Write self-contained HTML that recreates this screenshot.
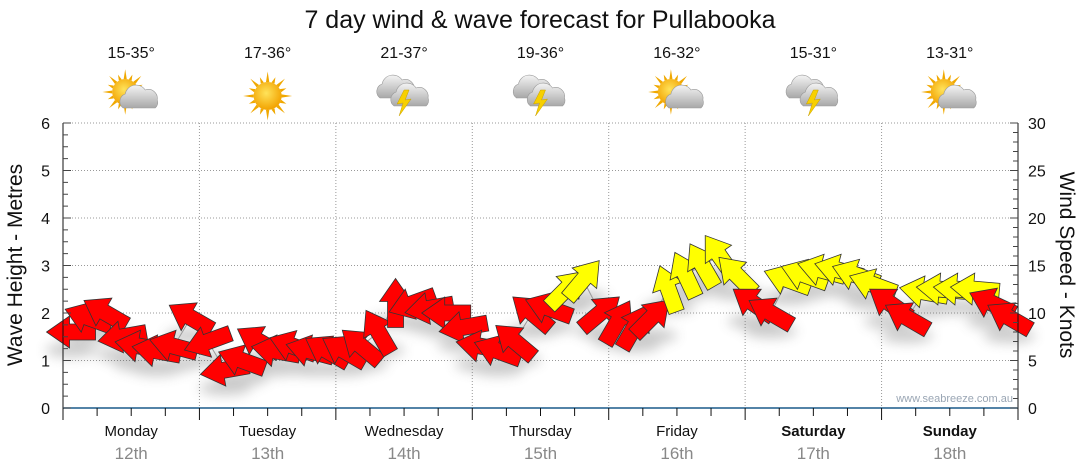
<!DOCTYPE html>
<html><head><meta charset="utf-8">
<style>
body{margin:0;background:#fff;}
svg{display:block;font-family:"Liberation Sans","DejaVu Sans",sans-serif;}
</style></head>
<body>
<svg id="chart" width="1080" height="475" viewBox="0 0 1080 475">
<defs>
<filter id="sh" x="-50%" y="-50%" width="200%" height="200%"><feGaussianBlur stdDeviation="6"/></filter>
<radialGradient id="sun" cx="0.45" cy="0.4" r="0.6"><stop offset="0" stop-color="#ffe35a"/><stop offset="1" stop-color="#f2a200"/></radialGradient>
<linearGradient id="cloud" x1="0" y1="0" x2="0" y2="1"><stop offset="0" stop-color="#f4f4f4"/><stop offset="1" stop-color="#a8a8a8"/></linearGradient>
</defs>
<text x="540" y="28" text-anchor="middle" font-size="25" fill="#111">7 day wind &amp; wave forecast for Pullabooka</text>
<g id="grid"></g>
<g id="header"></g>
<g id="shadows" filter="url(#sh)" opacity="0.3"></g>
<path id="waveline" fill="none" stroke="#999" stroke-width="1"/>
<g id="arrows"></g>
<g id="axes"></g>
<text x="1013" y="402" text-anchor="end" font-size="11" fill="#9aa6b4">www.seabreeze.com.au</text>
<text transform="translate(22,265) rotate(-90)" text-anchor="middle" font-size="21" fill="#111">Wave Height - Metres</text>
<text transform="translate(1060,265) rotate(90)" text-anchor="middle" font-size="21" fill="#111">Wind Speed - Knots</text>
</svg>
<script>
const days=["Monday","Tuesday","Wednesday","Thursday","Friday","Saturday","Sunday"];
const dates=["12th","13th","14th","15th","16th","17th","18th"];
const temps=["15-35°","17-36°","21-37°","19-36°","16-32°","15-31°","13-31°"];
const icons=["partly","sunny","storm","storm","partly","storm","partly"];
const leftTicks=[0,1,2,3,4,5,6];
const rightTicks=[0,5,10,15,20,25,30];
// wind speed (knots), 3-hourly
const windSpeed=[8,9.5,10,7.5,6.5,6,6.5,9.5,
 7,4,5,7,6,6.5,6,6,
 6,6.5,8,11,11,10.5,10,8.5,
 6.5,6,7,10,10.5,12.5,13.5,10,
 9,8.5,9.5,12.5,14,15,16,14,
 11,10,13.5,14,14.5,14.5,14,13,
 11,9.5,12.2,12.5,12.5,12.5,11,9.5];
// arrow heading (screen degrees, 0=right, 90=up)
const windDir=[180,160,150,190,170,170,165,150,
 200,190,160,150,170,160,165,150,
 150,140,120,90,200,190,180,190,
 170,160,140,140,160,45,50,40,
 60,60,45,110,115,120,125,135,
 145,150,160,160,165,165,160,160,
 145,150,170,175,175,175,155,150];
const thresh=12;
const X0=63,X1=1018,Y0=408,Y1=123;
const dayW=(X1-X0)/7;
const xh=h=>X0+h/168*(X1-X0);
const yk=k=>Y0-k/30*(Y0-Y1);
const ym=m=>Y0-m/6*(Y0-Y1);
const NS="http://www.w3.org/2000/svg";
function mk(tag,attrs,parent,txt){const e=document.createElementNS(NS,tag);for(const k in attrs)e.setAttribute(k,attrs[k]);if(txt!==undefined)e.textContent=txt;parent.appendChild(e);return e;}
const grid=document.getElementById('grid'),axes=document.getElementById('axes'),hdr=document.getElementById('header');
leftTicks.forEach(t=>{if(t>0){const l=mk('line',{x1:X0,x2:X1,y1:ym(t),y2:ym(t),stroke:'#999','stroke-dasharray':'1,2'},grid);

}
const tx=mk('text',{x:50,y:ym(t)+6,'text-anchor':'end','font-size':16,fill:'#111'},axes,t);

});
rightTicks.forEach(t=>{const tx=mk('text',{x:1028,y:yk(t)+6,'font-size':16,fill:'#111'},axes,t);

});
for(let i=1;i<7;i++){const l=mk('line',{x1:X0+i*dayW,x2:X0+i*dayW,y1:Y1,y2:Y0,stroke:'#999','stroke-dasharray':'1,2'},grid);

}
mk('line',{x1:X0,x2:X0,y1:Y1,y2:Y0,stroke:'#111'},axes);
mk('line',{x1:X1,x2:X1,y1:Y1,y2:Y0,stroke:'#111'},axes);
mk('line',{x1:X0,x2:X1,y1:Y0,y2:Y0,stroke:'#1a5a8a','stroke-width':1.5},axes);
for(let m=0;m<=24;m++){mk('line',{x1:X0,x2:X0+(m%4?5:8),y1:ym(m/4),y2:ym(m/4),stroke:'#444'},axes);}
for(let k=0;k<=30;k++){mk('line',{x1:X1,x2:X1-(k%5?5:8),y1:yk(k),y2:yk(k),stroke:'#444'},axes);}
for(let h=0;h<=168;h+=6){mk('line',{x1:xh(h),x2:xh(h),y1:Y0,y2:Y0+(h%24?8:12),stroke:'#111'},axes);}
function sun(g,cx,cy,r){for(let i=0;i<16;i++){const a=i*Math.PI/8,L=i%2?r*1.45:r*1.75;
mk('polygon',{points:`${cx+Math.cos(a-0.12)*r},${cy+Math.sin(a-0.12)*r} ${cx+Math.cos(a)*L},${cy+Math.sin(a)*L} ${cx+Math.cos(a+0.12)*r},${cy+Math.sin(a+0.12)*r}`,fill:'#f0a800'},g);}
mk('circle',{cx,cy,r,fill:'url(#sun)'},g);}
function cloud(g,cx,cy,s){mk('path',{d:`M${cx-16*s},${cy+8*s} a8 8 0 0 1 2,-14 a11 11 0 0 1 20,-4 a9 9 0 0 1 12,10 a7 7 0 0 1 -2,8 z`,fill:'url(#cloud)',stroke:'#999','stroke-width':0.6},g);}
days.forEach((d,i)=>{const cx=X0+(i+0.5)*dayW;const g=mk('g',{},hdr);


mk('text',{x:cx,y:58,'text-anchor':'middle','font-size':16,fill:'#111'},g,temps[i]);
const ic=icons[i];
if(ic==='sunny'){sun(g,cx,96,14);}
else if(ic==='partly'){sun(g,cx-6,92,13);cloud(g,cx+8,100,1);}
else{cloud(g,cx-8,90,1);cloud(g,cx+6,98,1);mk('polygon',{points:`${cx},${90} ${cx-7},${104} ${cx-1},${103} ${cx-5},${116} ${cx+7},${99} ${cx+1},${100} ${cx+5},${90}`,fill:'#f7d000',stroke:'#c9a000','stroke-width':0.5},g);}
const bold=i>=5?'bold':'normal';
const dl=mk('text',{x:cx,y:436,'text-anchor':'middle','font-size':15,'font-weight':bold,fill:'#111'},axes,d);


const dt=mk('text',{x:cx,y:459,'text-anchor':'middle','font-size':17,fill:'#888'},axes,dates[i]);

});
const arrows=document.getElementById('arrows'),shadows=document.getElementById('shadows');
const shape="25,0 2,-16 2,-8 -24,-8 -24,8 2,8 2,16";
let d="";
windSpeed.forEach((v,i)=>{const x=xh(i*3+1.5),y=yk(v);d+=(i?"L":"M")+x+","+y;
mk('ellipse',{cx:x,cy:y+18,rx:26,ry:7,fill:'#555'},shadows);
const a=mk('polygon',{points:shape,transform:`translate(${x},${y}) rotate(${-windDir[i]})`,fill:v>=thresh?'#ffff00':'#ff0000',stroke:'#333','stroke-width':0.8},arrows);

});
document.getElementById('waveline').setAttribute('d',d);
</script>
</body></html>
